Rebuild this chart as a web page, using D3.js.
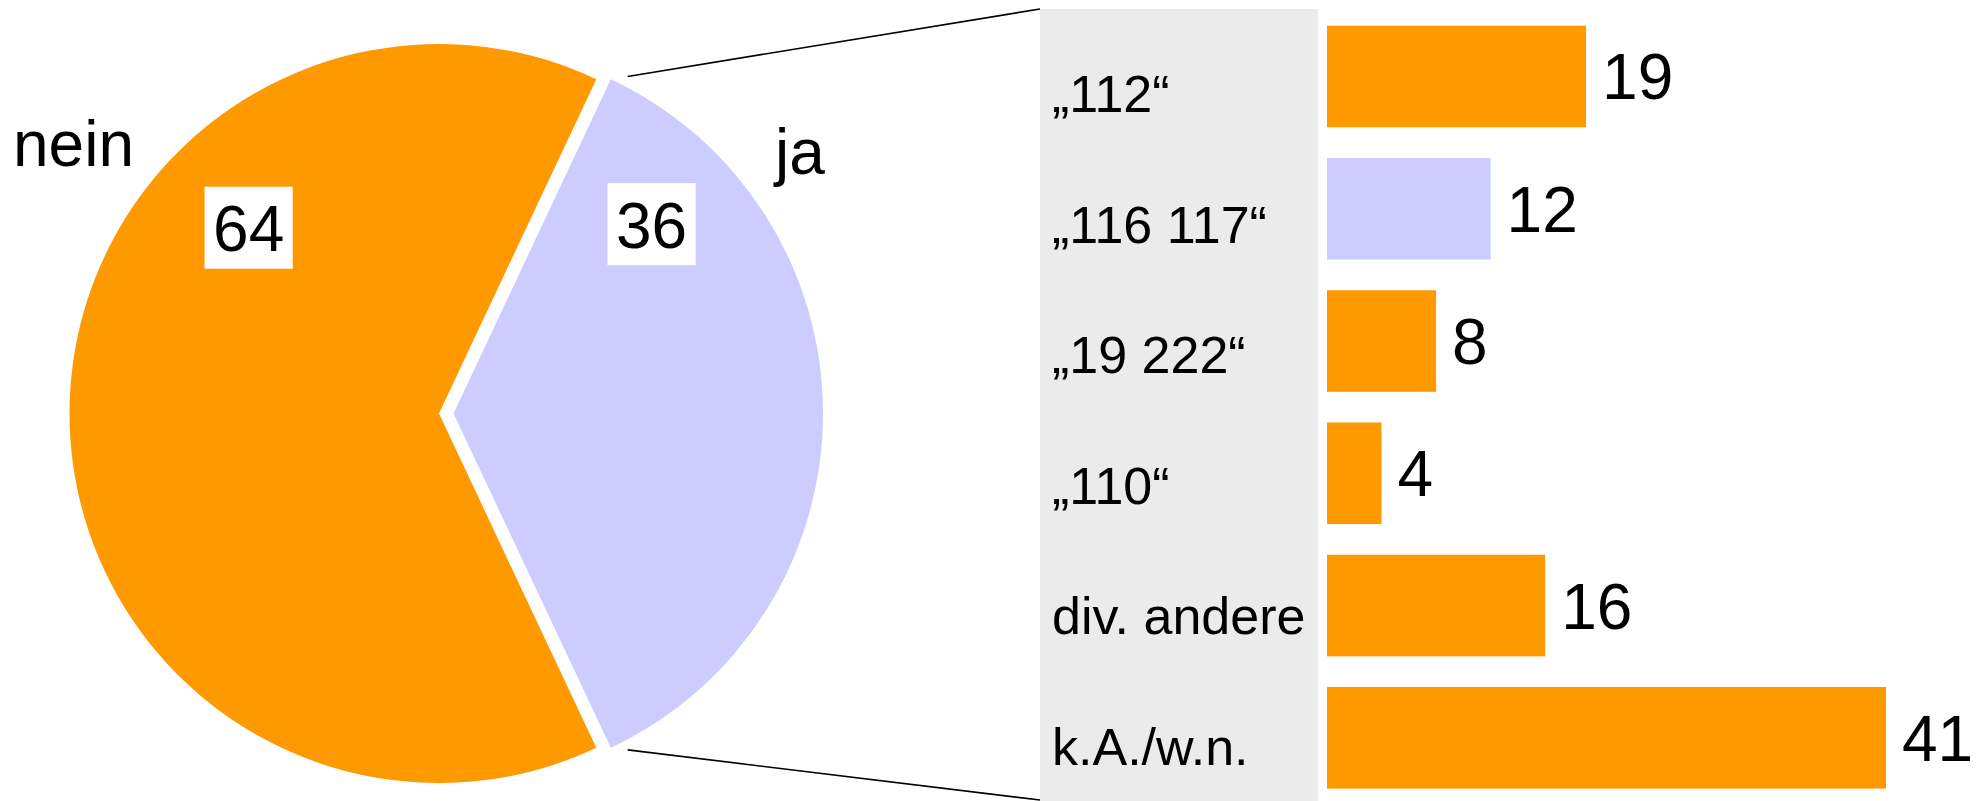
<!DOCTYPE html>
<html>
<head>
<meta charset="utf-8">
<script src="https://cdn.jsdelivr.net/npm/d3@7"></script>
<style>
  html, body { margin: 0; padding: 0; background: #ffffff; }
  svg { display: block; }
  text { font-family: "Liberation Sans", Arial, sans-serif; fill: #000; }
</style>
</head>
<body>
<div id="chart"></div>
<script>
// ---- data ----
const pieCategories = ["ja", "nein"];
const pieValues = [36, 64];
const barCategories = ["\u201e112\u201c", "\u201e116 117\u201c", "\u201e19 222\u201c", "\u201e110\u201c", "div. andere", "k.A./w.n."];
const barValues = [19, 12, 8, 4, 16, 41];
const barHighlight = [false, true, false, false, false, false];

// ---- layout ----
const W = 1986, H = 801;
const colors = { orange: "#ff9900", lavender: "#ccccff", grey: "#ebebeb" };

const svg = d3.select("#chart").append("svg")
  .attr("width", W).attr("height", H);

// ---- pie ----
const cx = 439, cy = 413.5, R = 369.5, explode = 14.5;
const jaShare = pieValues[0] / d3.sum(pieValues);
const start = Math.PI / 2 - Math.PI * jaShare;   // centre "ja" slice at 3 o'clock
const pie = d3.pie().sort(null).value(d => d)
  .startAngle(start).endAngle(start + 2 * Math.PI);
const arcs = pie(pieValues);
const arc = d3.arc().innerRadius(0).outerRadius(R);

const sliceColor = [colors.lavender, colors.orange];
const sliceExplode = [explode, 0];
const g = svg.append("g").attr("transform", `translate(${cx},${cy})`);

arcs.forEach((a, i) => {
  const mid = (a.startAngle + a.endAngle) / 2;
  const dx = sliceExplode[i] * Math.sin(mid), dy = -sliceExplode[i] * Math.cos(mid);
  a.dx = dx; a.dy = dy;
  g.append("path")
    .attr("d", arc(a))
    .attr("transform", `translate(${dx},${dy})`)
    .attr("fill", sliceColor[i]);
});

// value labels in white boxes
const labelAngle = [46.3 * Math.PI / 180, -45.7 * Math.PI / 180];
const labelR = [274, 266];
const valFont = 64;
arcs.forEach((a, i) => {
  const lx = a.dx + labelR[i] * Math.sin(labelAngle[i]);
  const ly = a.dy - labelR[i] * Math.cos(labelAngle[i]);
  const t = g.append("text")
    .attr("x", lx).attr("y", ly + 23.5)
    .attr("text-anchor", "middle")
    .style("font-size", valFont + "px")
    .text(pieValues[i]);
  const bw = t.node().getComputedTextLength() + 17;
  g.insert("rect", "text")
    .attr("x", lx - bw / 2).attr("y", ly - 41)
    .attr("width", bw).attr("height", 82)
    .attr("fill", "#ffffff");
});
// move texts to top
g.selectAll("text").raise();

// category labels outside
svg.append("text").attr("x", 134).attr("y", 166)
  .attr("text-anchor", "end").style("font-size", "64px").text(pieCategories[1]);
svg.append("text").attr("x", 775).attr("y", 174)
  .attr("text-anchor", "start").style("font-size", "64px").text(pieCategories[0]);

// ---- grey label panel ----
const panelX0 = 1040, panelX1 = 1318, panelY0 = 9, panelY1 = 801;
svg.insert("rect", ":first-child")
  .attr("x", panelX0).attr("y", panelY0)
  .attr("width", panelX1 - panelX0).attr("height", panelY1 - panelY0)
  .attr("fill", colors.grey);

// ---- connector lines ----
const ja = arcs[0];
const corners = [
  [cx + ja.dx + R * Math.sin(ja.startAngle), cy + ja.dy - R * Math.cos(ja.startAngle), panelX0, panelY0],
  [cx + ja.dx + R * Math.sin(ja.endAngle), cy + ja.dy - R * Math.cos(ja.endAngle), panelX0, 800]
];
const gap = 17;
corners.forEach(([x0, y0, x1, y1]) => {
  const len = Math.hypot(x1 - x0, y1 - y0);
  const ux = (x1 - x0) / len, uy = (y1 - y0) / len;
  svg.append("line")
    .attr("x1", x0 + ux * gap).attr("y1", y0 + uy * gap)
    .attr("x2", x1).attr("y2", y1)
    .attr("stroke", "#000").attr("stroke-width", 1.6);
});

// ---- bars ----
const x = d3.scaleLinear().domain([0, 41]).range([1327, 1886]);
const y = d3.scaleBand().domain(barCategories).range([25.7, 788.6])
  .paddingInner(0.232).paddingOuter(0);
const yLab = d3.scalePoint().domain(barCategories).range([112, 765]);

svg.append("g").selectAll("rect")
  .data(barCategories)
  .join("rect")
  .attr("x", x(0))
  .attr("y", d => y(d))
  .attr("width", (d, i) => x(barValues[i]) - x(0))
  .attr("height", y.bandwidth())
  .attr("fill", (d, i) => barHighlight[i] ? colors.lavender : colors.orange);

svg.append("g").selectAll("text")
  .data(barCategories)
  .join("text")
  .attr("x", (d, i) => x(barValues[i]) + 16)
  .attr("y", d => y(d) + y.bandwidth() / 2 + 23)
  .style("font-size", "64px")
  .text((d, i) => barValues[i]);

svg.append("g").selectAll("text")
  .data(barCategories)
  .join("text")
  .attr("x", 1052)
  .attr("y", d => yLab(d))
  .style("font-size", "52px")
  .text(d => d);
</script>
</body>
</html>
